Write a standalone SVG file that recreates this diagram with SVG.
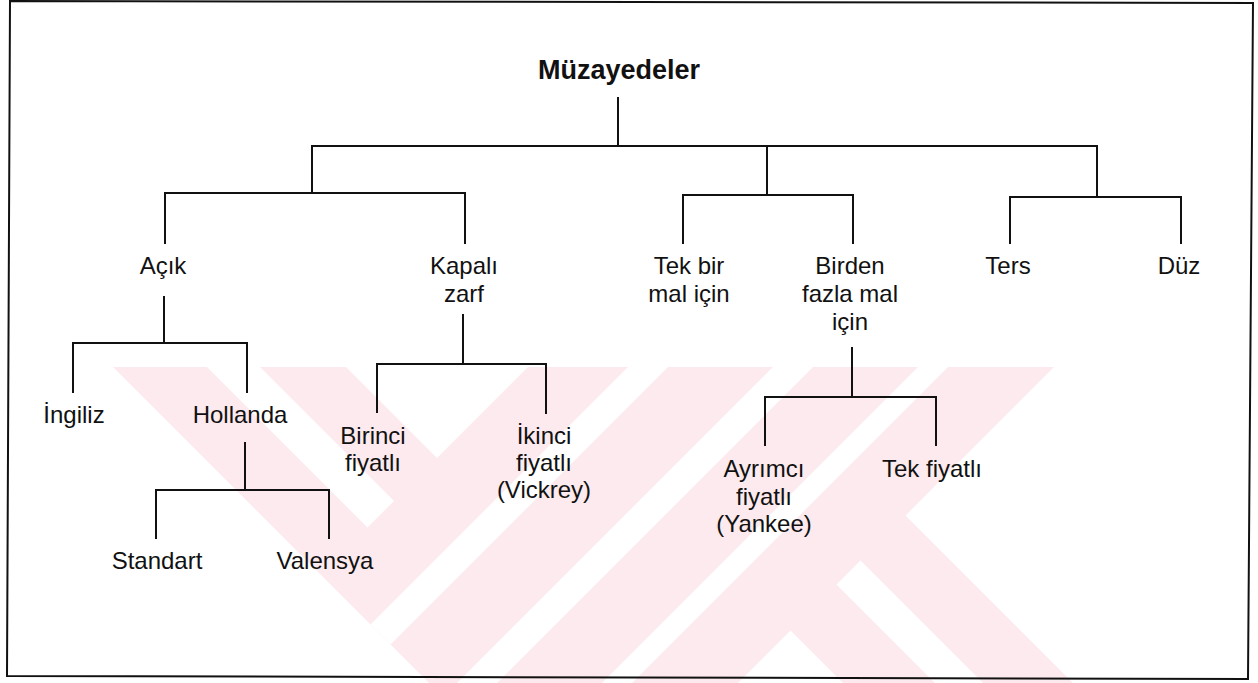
<svg xmlns="http://www.w3.org/2000/svg" width="1258" height="683" viewBox="0 0 1258 683">
  <defs>
    <style>
      .lbl { font-family: "Liberation Sans", Arial, sans-serif; font-size: 24px; fill: #111; text-anchor: middle; }
      .root { font-family: "Liberation Sans", Arial, sans-serif; font-size: 27px; font-weight: bold; fill: #111; text-anchor: middle; }
      .wire { fill: none; stroke: #111; stroke-width: 2; stroke-linecap: square; }
      .frame { fill: none; stroke: #111; stroke-width: 2; }
      .mark { fill: #fdeaee; }
      .gap { fill: #ffffff; }
    </style>
    <clipPath id="markClip">
      <polygon points="113,367 1054,367 905.5,515.5 1073,683 429,683"/>
    </clipPath>
  </defs>

  <rect x="0" y="0" width="1258" height="683" fill="#ffffff"/>

  <!-- pale background emblem with diagonal bands -->
  <g id="emblem" clip-path="url(#markClip)">
    <rect class="mark" x="100" y="360" width="1000" height="330"/>
    <polygon class="gap" points="207,367 260,367 394,501 367.5,527.5"/>
    <polygon class="gap" points="346,367 528,367 437,458"/>
    <polygon class="gap" points="628,367 668,367 345,690 305,690"/>
    <polygon class="gap" points="773,367 813,367 490,690 450,690"/>
    <polygon class="gap" points="918,367 948,367 625,690 595,690"/>
    <polygon class="gap" points="790.5,630.5 850,690 731,690"/>
    <polygon class="gap" points="836.5,584.5 860.5,560.5 990,690 942,690"/>
  </g>

  <!-- outer frame -->
  <polygon id="frame" class="frame" points="10,1 1253,3 1248,679 7,676"/>

  <!-- tree connectors -->
  <g id="connectors">
    <path class="wire" d="M618 98 V146 M312 146 H1097 M312 146 V193 M767 146 V195 M1097 146 V197"/>
    <path class="wire" d="M165 243 V193 H465 V243"/>
    <path class="wire" d="M683 243 V195 H853 V243"/>
    <path class="wire" d="M1010 243 V197 H1181 V243"/>
    <path class="wire" d="M164 297 V343 M73 392 V343 H247 V392"/>
    <path class="wire" d="M245 443 V490 M156 538 V490 H329 V538"/>
    <path class="wire" d="M463 315 V364 M377 412 V364 H546 V413"/>
    <path class="wire" d="M852 348 V397 M765 445 V397 H936 V445"/>
  </g>

  <g id="muzayedeler"><text class="root" x="619" y="79">Müzayedeler</text></g>

  <g id="acik"><text class="lbl" x="163" y="274">Açık</text></g>
  <g id="kapali-zarf"><text class="lbl" x="464" y="274">Kapalı</text><text class="lbl" x="464" y="302">zarf</text></g>
  <g id="tek-bir-mal"><text class="lbl" x="689" y="274">Tek bir</text><text class="lbl" x="689" y="302">mal için</text></g>
  <g id="birden-fazla"><text class="lbl" x="850" y="274">Birden</text><text class="lbl" x="850" y="302">fazla mal</text><text class="lbl" x="850" y="330">için</text></g>
  <g id="ters"><text class="lbl" x="1008" y="274">Ters</text></g>
  <g id="duz"><text class="lbl" x="1179" y="274">Düz</text></g>

  <g id="ingiliz"><text class="lbl" x="74" y="423">İngiliz</text></g>
  <g id="hollanda"><text class="lbl" x="240" y="423">Hollanda</text></g>
  <g id="standart"><text class="lbl" x="157" y="569">Standart</text></g>
  <g id="valensya"><text class="lbl" x="325" y="569">Valensya</text></g>

  <g id="birinci-fiyatli"><text class="lbl" x="373" y="444">Birinci</text><text class="lbl" x="373" y="471">fiyatlı</text></g>
  <g id="ikinci-fiyatli"><text class="lbl" x="544" y="444">İkinci</text><text class="lbl" x="544" y="471">fiyatlı</text><text class="lbl" x="544" y="498">(Vickrey)</text></g>

  <g id="ayrimci-fiyatli"><text class="lbl" x="764" y="477">Ayrımcı</text><text class="lbl" x="764" y="505">fiyatlı</text><text class="lbl" x="764" y="532">(Yankee)</text></g>
  <g id="tek-fiyatli"><text class="lbl" x="932" y="477">Tek fiyatlı</text></g>
</svg>
